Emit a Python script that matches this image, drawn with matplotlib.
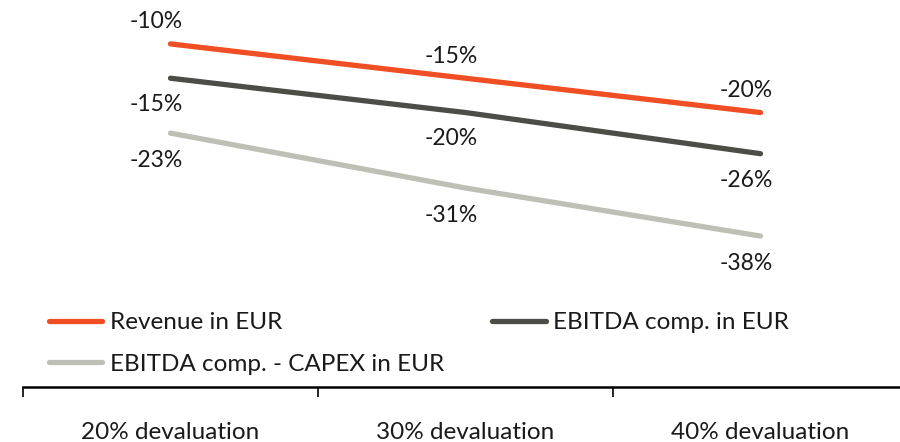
import numpy as np
import matplotlib.pyplot as plt
from matplotlib.ticker import FixedLocator

# --- data
categories = ["20% devaluation", "30% devaluation", "40% devaluation"]
revenue = [-10, -15, -20]
ebitda = [-15, -20, -26]
ebitda_capex = [-23, -31, -38]
series_names = ["Revenue in EUR", "EBITDA comp. in EUR", "EBITDA comp. - CAPEX in EUR"]

col_rev = "#F04E23"
col_ebitda = "#4D4D48"
col_capex = "#BEBFB5"

plt.rcParams['font.family'] = ['Lato', 'DejaVu Sans']

fig = plt.figure(figsize=(9, 4.42), dpi=100)
# axes spans slightly beyond right edge, like the original
ax = fig.add_axes([23 / 900, 55 / 442, 885 / 900, 387 / 442])

x = np.arange(len(categories))
l1, = ax.plot(x, revenue, color=col_rev, lw=3.8, solid_capstyle='round')
l2, = ax.plot(x, ebitda, color=col_ebitda, lw=3.8, solid_capstyle='round')
l3, = ax.plot(x, ebitda_capex, color=col_capex, lw=3.8, solid_capstyle='round')

fs = 16.5
fs2 = 17.5
# value labels: revenue above, the others below
for xi, v in zip(x, revenue):
    ax.annotate(f"{v}%", (xi, v), xytext=(-10, 16), textcoords='offset points',
                ha='center', va='center', fontsize=fs, color='#1a1a1a')
for xi, v in zip(x, ebitda):
    ax.annotate(f"{v}%", (xi, v), xytext=(-10, -19), textcoords='offset points',
                ha='center', va='center', fontsize=fs, color='#1a1a1a')
for xi, v in zip(x, ebitda_capex):
    ax.annotate(f"{v}%", (xi, v), xytext=(-10, -20), textcoords='offset points',
                ha='center', va='center', fontsize=fs, color='#1a1a1a')

ax.set_xlim(-0.5, 2.5)
ax.set_ylim(-60, -3.6)

for s in ['top', 'right', 'left']:
    ax.spines[s].set_visible(False)
ax.spines['bottom'].set_linewidth(1.8)
ax.set_yticks([])

ax.set_xticks(x)
ax.set_xticklabels(categories, fontsize=fs2, color='#1a1a1a')
ax.tick_params(axis='x', which='major', length=0, pad=25)
ax.xaxis.set_minor_locator(FixedLocator([-0.5, 0.5, 1.5, 2.5]))
ax.tick_params(axis='x', which='minor', length=7, width=1.2, direction='out')

leg = ax.legend([l1, l3, l2], [series_names[0], series_names[2], series_names[1]],
                ncol=2, loc='upper left', bbox_to_anchor=(49 / 900, 1 - 312 / 442),
                bbox_transform=fig.transFigure, frameon=False, fontsize=fs2,
                handlelength=2.2, handletextpad=0.29, columnspacing=2.0,
                labelspacing=0.85, borderaxespad=0, borderpad=0)
for t in leg.get_texts():
    t.set_color('#1a1a1a')

fig.savefig("out.png", dpi=100)
